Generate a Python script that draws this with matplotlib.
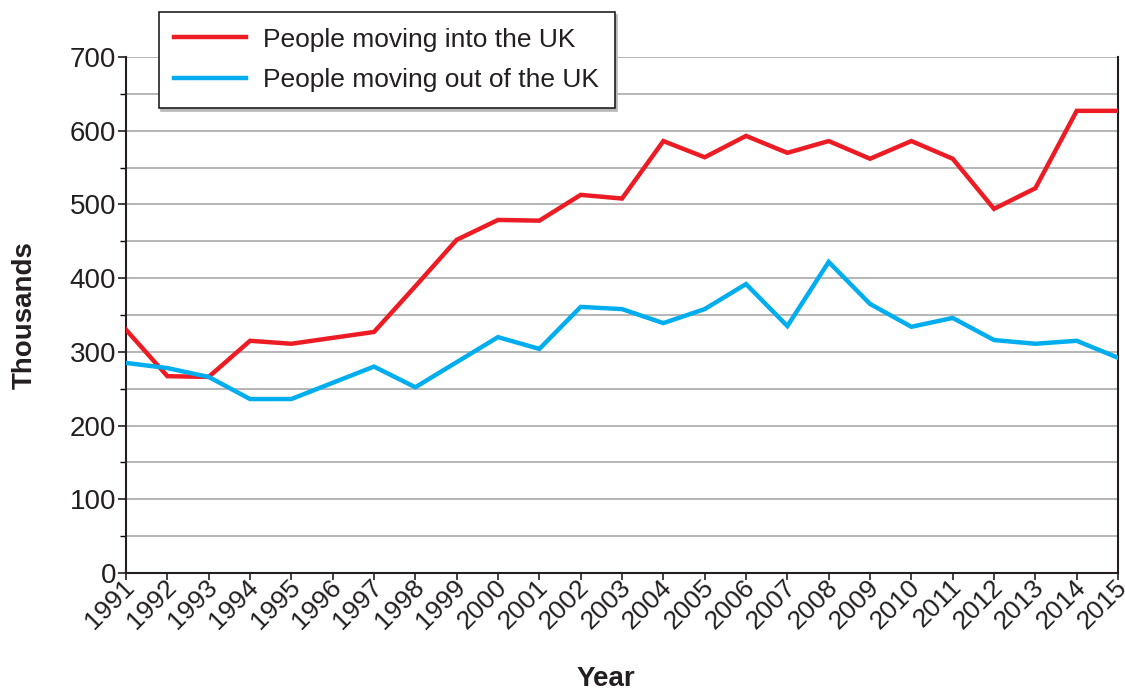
import numpy as np
import matplotlib.pyplot as plt
import matplotlib.transforms as mtransforms

plt.rcParams['font.family'] = ['Liberation Sans', 'DejaVu Sans']

# Data (thousands)
years = list(range(1991, 2016))
moving_in = [330, 267, 266, 315, 311, 319, 327, 389, 452, 479, 478, 513, 508, 586,
             564, 593, 570, 586, 562, 586, 562, 494, 522, 627, 627]
moving_out = [285, 278, 266, 236, 236, 258, 280, 252, 286, 320, 304, 361, 358, 339,
              358, 392, 335, 422, 365, 334, 346, 316, 311, 315, 292]

red = '#ed1c24'
blue = '#00aeef'

fig = plt.figure(figsize=(11.25, 6.93), dpi=100)
ax = fig.add_axes([0.112, 0.1732, 0.8818, 0.7445])

ax.plot(years, moving_in, color=red, lw=3.2, solid_joinstyle='miter',
        label='People moving into the UK', zorder=3)
ax.plot(years, moving_out, color=blue, lw=3.2, solid_joinstyle='miter',
        label='People moving out of the UK', zorder=3)

ax.set_xlim(1991, 2015)
ax.set_ylim(0, 700)
ax.set_yticks(np.arange(0, 701, 100))
ax.set_yticks(np.arange(50, 700, 100), minor=True)
ax.set_xticks(years)
ax.set_xticklabels([str(y) for y in years], rotation=45, ha='right', va='center',
                   rotation_mode='anchor', fontsize=19)
ax.tick_params(axis='y', labelsize=20, length=6, width=1.2, pad=1, colors='#231f20')
ax.tick_params(axis='y', which='minor', length=4, width=1)
ax.tick_params(axis='x', length=5, width=1.2, pad=6, colors='#231f20')

# nudge the rotated year labels up and right, like the reference
offset = mtransforms.ScaledTranslation(0.05, 0.05, fig.dpi_scale_trans)
for lab in ax.get_xticklabels():
    lab.set_transform(lab.get_transform() + offset)

for y in np.arange(50, 701, 50):
    ax.axhline(y, color='#b0b0b0', lw=1.3, zorder=1)

ax.spines['top'].set_visible(False)
for s in ['left', 'right', 'bottom']:
    ax.spines[s].set_linewidth(1.5)
    ax.spines[s].set_color('#231f20')

ax.set_ylabel('Thousands', fontsize=20, fontweight='bold', color='#231f20')
ax.yaxis.set_label_coords(-0.089, 0.5)
ax.set_xlabel('Year', fontsize=20, fontweight='bold', color='#231f20')
ax.xaxis.set_label_coords(0.484, -0.18)

leg = fig.legend(loc='upper left', bbox_to_anchor=(0.141, 0.983), fontsize=19,
                 frameon=True, fancybox=False, edgecolor='#231f20',
                 shadow={'color': '#b8b8b8', 'alpha': 1},
                 handlelength=2.7, handletextpad=0.65, borderpad=0.6,
                 labelspacing=0.62, borderaxespad=0)
leg.get_frame().set_linewidth(1.2)
for t in leg.get_texts():
    t.set_color('#231f20')

fig.savefig('out.png', dpi=100)
